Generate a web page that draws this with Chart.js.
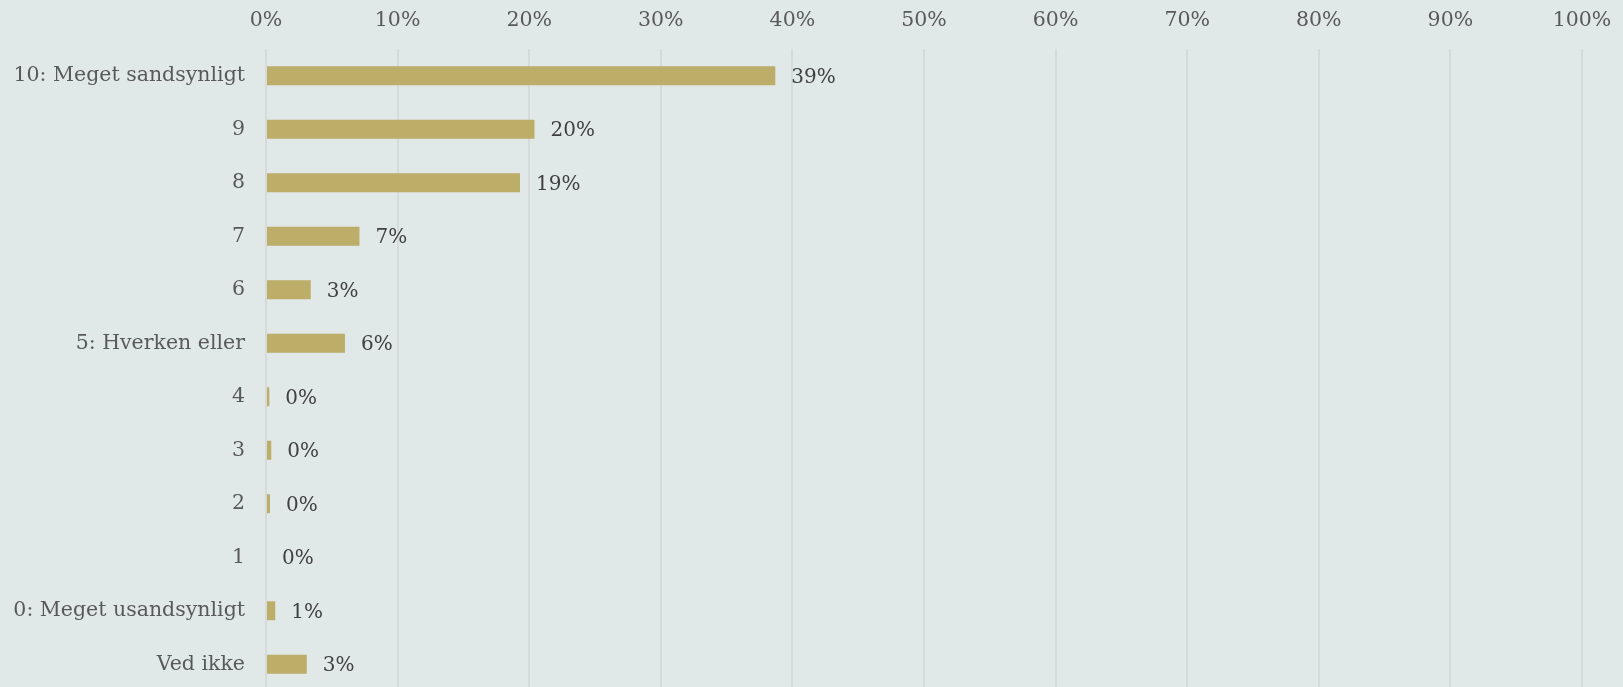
<!DOCTYPE html>
<html>
<head>
<meta charset="utf-8">
<script src="https://cdn.jsdelivr.net/npm/chart.js@4.4.1/dist/chart.umd.min.js"></script>
<style>
  html, body { margin: 0; padding: 0; background: #E1E8E8; overflow: hidden; }
  #wrap { width: 1623px; height: 691px; }
</style>
</head>
<body>
<div id="wrap"><canvas id="c" width="1623" height="691"></canvas></div>
<script>
const categories = ["10: Meget sandsynligt", "9", "8", "7", "6", "5: Hverken eller", "4", "3", "2", "1", "0: Meget usandsynligt", "Ved ikke"];
const values = [38.7, 20.4, 19.3, 7.1, 3.4, 6.0, 0.25, 0.4, 0.3, 0, 0.7, 3.1];
const tickValues = [0, 10, 20, 30, 40, 50, 60, 70, 80, 90, 100];

const FONT = "'DejaVu Serif', 'Liberation Serif', serif";

const valueLabels = {
  id: 'valueLabels',
  afterDatasetsDraw(chart) {
    const ctx = chart.ctx;
    const meta = chart.getDatasetMeta(0);
    ctx.save();
    ctx.font = "20px " + FONT;
    ctx.fillStyle = "#404040";
    ctx.textAlign = "left";
    ctx.textBaseline = "middle";
    meta.data.forEach((bar, i) => {
      const v = values[i];
      ctx.fillText(Math.round(v) + "%", bar.x + 16, bar.y + 2);
    });
    ctx.restore();
  }
};

new Chart(document.getElementById('c'), {
  type: 'bar',
  data: {
    labels: categories,
    datasets: [{
      data: values,
      backgroundColor: '#BCAD68',
      borderWidth: 0,
      barPercentage: 0.355,
      categoryPercentage: 1.0
    }]
  },
  options: {
    indexAxis: 'y',
    responsive: false,
    animation: false,
    devicePixelRatio: 1,
    layout: { padding: { left: 0, right: 41, top: 0, bottom: 0 } },
    plugins: { legend: { display: false }, tooltip: { enabled: false } },
    scales: {
      x: {
        position: 'top',
        min: 0,
        max: 100,
        afterBuildTicks(scale) { scale.ticks = tickValues.map(v => ({ value: v })); },
        afterFit(scale) { scale.height = 49; scale.paddingLeft = 0; scale.paddingRight = 0; },
        ticks: {
          callback: v => v + '%',
          color: '#595959',
          font: { family: FONT, size: 20.5 },
          padding: 16,
          maxRotation: 0
        },
        grid: { color: '#D6DADA', lineWidth: 2, drawTicks: false },
        border: { display: false }
      },
      y: {
        afterFit(scale) { scale.width = 266; scale.paddingTop = 0; scale.paddingBottom = 0; },
        ticks: {
          color: '#595959',
          font: { family: FONT, size: 20.5 },
          padding: 21
        },
        grid: { display: false, drawTicks: false },
        border: { display: false }
      }
    }
  },
  plugins: [valueLabels]
});
</script>
</body>
</html>
